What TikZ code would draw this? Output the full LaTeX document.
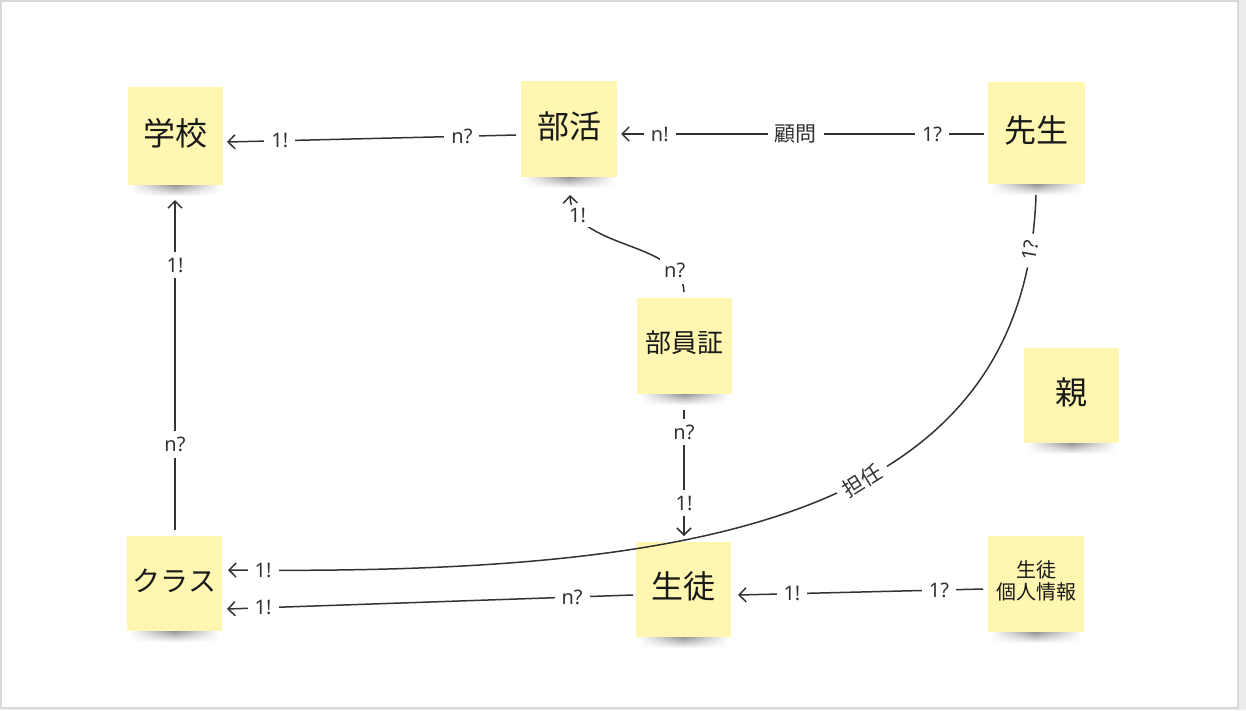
\documentclass[tikz,border=0pt]{standalone}
\usepackage{fontspec}
\setmainfont{Noto Sans}
\newfontfamily\cjk{Noto Sans CJK JP}
\usetikzlibrary{arrows.meta,fadings}
\definecolor{notefill}{HTML}{FFF7B1}
\definecolor{ink}{HTML}{333333}
\tikzfading[name=sidefade, left color=transparent!100, right color=transparent!100, middle color=transparent!0]
\newcommand\stickynote[7]{%
  \shade[path fading=sidefade, top color=black!50, bottom color=white] ({#2+3},{#5-2}) rectangle ({#4-3},{#5+11});
  \node[notebox, minimum width={#4-#2}, minimum height={#5-#3}] (#1) at ({(#2+#4)/2},{(#3+#5)/2}) {};
  \node[font=\cjk\fontsize{#6}{#6}\selectfont, text=black!90, align=center] (#1-text) at ({(#2+#4)/2},{(#3+#5)/2-3}) {#7};
}
\begin{document}
\begin{tikzpicture}[x=1pt,y=-1pt,
  notebox/.style={fill=notefill, draw=none, inner sep=0pt},
  edge/.style={draw=ink, line width=1.5pt, -{Straight Barb[length=7pt,width=14pt]}},
  lbl/.style={fill=white, inner xsep=7pt, inner ysep=6pt, font=\fontsize{20}{20}\selectfont, text=ink},
  cjklbl/.style={lbl, font=\cjk\fontsize{21}{21}\selectfont}]
\useasboundingbox (0,0) rectangle (1246,710);
\fill[black!7] (0,0) rectangle (1246,710);
\fill[white, draw=black!15, line width=2pt] (1,1) rectangle (1238,708);

% sticky notes
\stickynote{school}{128}{87}{223}{185}{32}{学校}
\stickynote{club}{521}{81}{617}{177}{32}{部活}
\stickynote{teacher}{988}{82}{1085}{184}{32}{先生}
\stickynote{card}{637}{298}{732}{394}{26}{部員証}
\stickynote{parent}{1024}{348}{1119}{443}{32}{親}
\stickynote{klass}{127}{536}{222}{631}{28}{クラス}
\stickynote{student}{636}{542}{731}{637}{32}{生徒}
\stickynote{info}{988}{536}{1084}{632}{20}{生徒\\[2pt]個人情報}

% connector end points
\coordinate (e1s) at (516,135);  \coordinate (e1t) at (227,142);
\coordinate (e2s) at (984,134);  \coordinate (e2t) at (621,134);
\coordinate (e3s) at (684,292);  \coordinate (e3t) at (570,195);
\coordinate (e4s) at (175,530);  \coordinate (e4t) at (175,200);
\coordinate (e5s) at (684,410);  \coordinate (e5t) at (684,536);
\coordinate (e6s) at (1036,195); \coordinate (e6t) at (228,570);
\coordinate (e7s) at (633,595);  \coordinate (e7t) at (227,609);
\coordinate (e8s) at (983,589);  \coordinate (e8t) at (738,595);

% connectors
\draw[edge] (e1s) -- node[lbl, pos=0.187] (l1a) {n?} node[lbl, pos=0.817] (l1b) {1!} (e1t);
\draw[edge] (e2s) -- node[lbl, pos=0.143] (l2a) {1?} node[cjklbl, pos=0.518] (l2b) {顧問} node[lbl, pos=0.893] (l2c) {n!} (e2t);
\draw[edge] (e3s) .. controls (682,240) and (572,250) .. node[lbl, pos=0.17, inner xsep=4pt] (l3a) {n?} node[lbl, pos=0.85, inner ysep=4pt] (l3b) {1!} (e3t);
\draw[edge] (e4s) -- node[lbl, pos=0.258] (l4a) {n?} node[lbl, pos=0.803] (l4b) {1!} (e4t);
\draw[edge] (e5s) -- node[lbl, pos=0.175] (l5a) {n?} node[lbl, pos=0.738] (l5b) {1!} (e5t);
\draw[edge] (e6s) .. controls (1025,520) and (700,575) ..
  node[lbl, pos=0.06, rotate=80, inner ysep=4pt] (l6a) {1?}
  node[cjklbl, pos=0.428, rotate=32, inner ysep=3pt] (l6b) {担任}
  node[lbl, pos=0.975] (l6c) {1!} (e6t);
\draw[edge] (e7s) -- node[lbl, pos=0.150] (l7a) {n?} node[lbl, pos=0.911] (l7b) {1!} (e7t);
\draw[edge] (e8s) -- node[lbl, pos=0.18] (l8a) {1?} node[lbl, pos=0.78] (l8b) {1!} (e8t);
\end{tikzpicture}
\end{document}
